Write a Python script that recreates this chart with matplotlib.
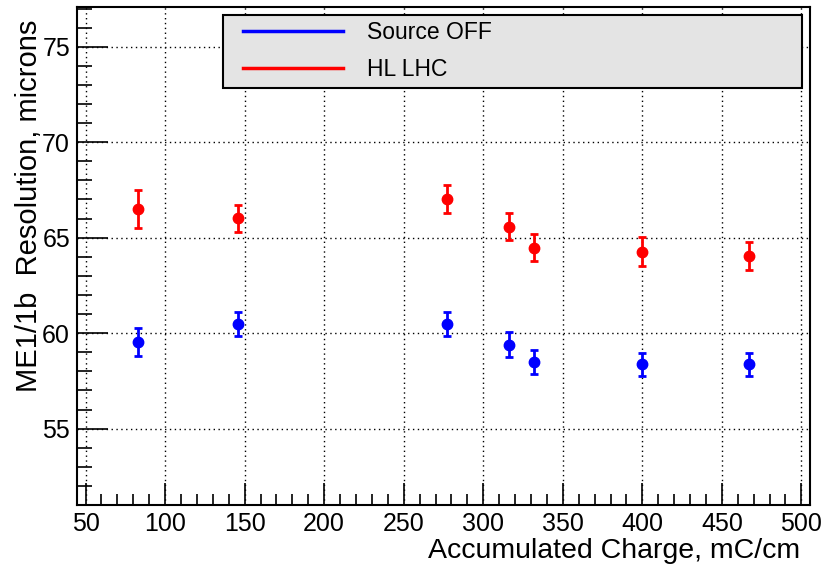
import matplotlib
matplotlib.use("Agg")
import matplotlib.pyplot as plt
from matplotlib.lines import Line2D
from matplotlib.legend_handler import HandlerLine2D
from matplotlib.ticker import MultipleLocator

plt.rcParams['font.family'] = ['Liberation Sans', 'DejaVu Sans']

# accumulated charge, mC/cm
charge = [83, 146, 277, 316, 332, 400, 467]
# resolution, microns
res_off = [59.52, 60.50, 60.48, 59.40, 58.49, 58.37, 58.37]
err_off = [0.73, 0.63, 0.63, 0.64, 0.63, 0.60, 0.60]
res_hl = [66.49, 66.02, 67.03, 65.58, 64.48, 64.27, 64.06]
err_hl = [1.00, 0.70, 0.73, 0.70, 0.70, 0.75, 0.73]
labels = ["Source OFF", "HL LHC"]

fig = plt.figure(figsize=(8.25, 5.64), dpi=100)
ax = fig.add_axes([0.0933, 0.1046, 0.8885, 0.883])

ax.errorbar(charge, res_off, yerr=err_off, fmt='o', color='blue', ms=7.5,
            elinewidth=2, capsize=3, capthick=2, zorder=3)
ax.errorbar(charge, res_hl, yerr=err_hl, fmt='o', color='red', ms=7.5,
            elinewidth=2, capsize=3, capthick=2, zorder=3)

ax.set_xlim(44.6, 505.4)
ax.set_ylim(51.0, 77.08)

ax.xaxis.set_major_locator(MultipleLocator(50))
ax.xaxis.set_minor_locator(MultipleLocator(10))
ax.yaxis.set_major_locator(MultipleLocator(5))
ax.yaxis.set_minor_locator(MultipleLocator(1))

ax.tick_params(axis='x', which='major', direction='in', length=16, width=1.2,
               labelsize=18, pad=5, top=False)
ax.tick_params(axis='x', which='minor', direction='in', length=8, width=1.2, top=False)
ax.tick_params(axis='y', which='major', direction='in', length=22, width=1.2,
               labelsize=18, pad=5, right=False)
ax.tick_params(axis='y', which='minor', direction='in', length=11, width=1.2, right=False)

ax.grid(True, which='major', color='black', linestyle=(0, (1, 2.5)), linewidth=1.0)
ax.set_axisbelow(True)

for sp in ax.spines.values():
    sp.set_linewidth(1.5)

ax.set_xlabel("Accumulated Charge, mC/cm", fontsize=20.5, ha='right')
ax.xaxis.set_label_coords(0.987, -0.066)
ax.set_ylabel("ME1/1b  Resolution, microns", fontsize=21, ha='right')
ax.yaxis.set_label_coords(-0.046, 0.974)

handles = [Line2D([], [], color='blue', lw=2.5), Line2D([], [], color='red', lw=2.5)]
leg = ax.legend(handles, labels, bbox_to_anchor=(0.199, 0.7, 0.790, 0.284),
                loc='upper left', mode='expand', fontsize=16.5, handlelength=4.98,
                handletextpad=1.05, labelspacing=0.6, borderpad=0.28, borderaxespad=0,
                handler_map={Line2D: HandlerLine2D(xpad=0.61)},
                fancybox=False, framealpha=1, facecolor='#e4e4e4', edgecolor='black')
leg.get_frame().set_linewidth(1.5)

fig.savefig("out.png", dpi=100)
